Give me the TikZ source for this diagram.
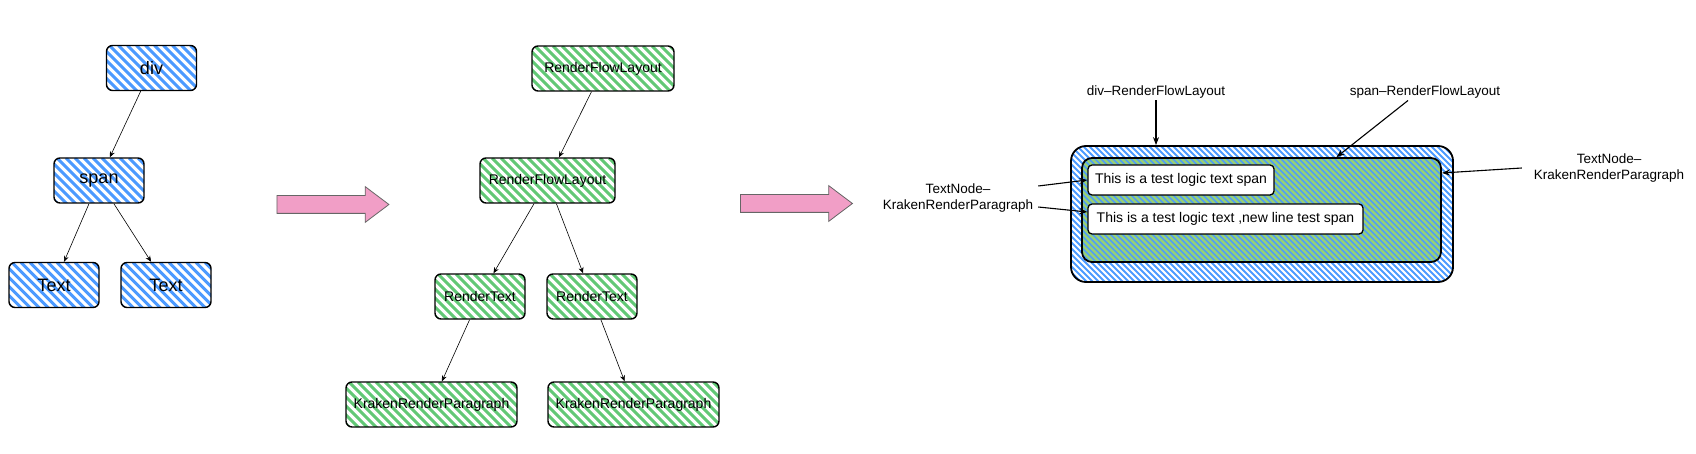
\documentclass[tikz,border=0pt]{standalone}
\usepackage{fontspec}
\setmainfont{Liberation Sans}
\usetikzlibrary{arrows.meta,positioning,shapes.arrows}

\definecolor{hatchblue}{RGB}{76,154,255}
\definecolor{hatchgreen}{RGB}{98,200,118}
\definecolor{leafgreen}{RGB}{151,208,119}
\definecolor{arrowpink}{RGB}{241,158,198}

\begin{document}
\begin{tikzpicture}[x=1pt,y=-1pt,
    stripes/.style n args={3}{path picture={
        \foreach \k in {0,...,95}
          \draw[#1,line width=#3]
            ([xshift={(\k*#2-150)*1pt}]path picture bounding box.north west) -- ++(170,170);}},
    box/.style={draw=black,line width=1.4pt,rounded corners=6pt,minimum height=45pt,inner sep=2pt},
    domnode/.style={box,minimum width=90pt,font=\fontsize{18}{20}\selectfont,stripes={hatchblue}{9}{3pt}},
    rendernode/.style={box,font=\fontsize{14}{16}\selectfont,stripes={hatchgreen}{9}{3pt}},
    textbox/.style={draw=black,line width=1.3pt,fill=white,rounded corners=4pt,minimum height=30pt,
                    inner sep=2pt,font=\fontsize{14}{16}\selectfont},
    note/.style={font=\fontsize{13.5}{16}\selectfont,align=center,inner sep=2pt},
    edge/.style={-{Stealth[length=6pt,width=5pt]},line width=0.6pt},
    pointer/.style={-{Stealth[length=8pt,width=6pt]},line width=1.1pt},
    bigarrow/.style={single arrow,draw=black!60,line width=0.8pt,fill=arrowpink,
                    minimum height=112pt,inner xsep=0pt,inner ysep=8.5pt,
                    single arrow head extend=9pt,single arrow tip angle=74}
  ]
    \useasboundingbox (0,0) rectangle (1696,454);

    % DOM tree
    \node[domnode] (div) at (151.5,68) {div};
    \node[domnode] (span) at (99,180.5) {span};
    \node[domnode] (text1) at (54,285) {Text};
    \node[domnode] (text2) at (166,285) {Text};
    \draw[edge] (div) -- (span);
    \draw[edge] (span) -- (text1); \draw[edge] (span) -- (text2);

    \node[bigarrow] (arrA) at (327,204.5) {};

    % render tree
    \node[rendernode,minimum width=142pt] (rfl1) at (603,68.5) {RenderFlowLayout};
    \node[rendernode,minimum width=135pt] (rfl2) at (547.5,180.5) {RenderFlowLayout};
    \node[rendernode,minimum width=90pt] (rt1) at (480,296.5) {RenderText};
    \node[rendernode,minimum width=90pt] (rt2) at (592,296.5) {RenderText};
    \node[rendernode,minimum width=171pt] (krp1) at (431.5,404.5) {KrakenRenderParagraph};
    \node[rendernode,minimum width=171pt] (krp2) at (633.5,404.5) {KrakenRenderParagraph};
    \draw[edge] (rfl1) -- (rfl2);
    \draw[edge] (rfl2) -- (rt1); \draw[edge] (rfl2) -- (rt2);
    \draw[edge] (rt1) -- (krp1); \draw[edge] (rt2) -- (krp2);

    \node[bigarrow] (arrB) at (790.5,203.5) {};

    % layout result
    \node[draw=black,line width=1.8pt,rounded corners=15pt,minimum width=382pt,minimum height=136pt,
          stripes={hatchblue}{6}{2pt}] (outer) at (1262,214) {};
    \node[draw=black,line width=1.8pt,rounded corners=10pt,minimum width=359pt,minimum height=104pt,
          fill=leafgreen,stripes={hatchblue}{6}{1.4pt}] (inner) at (1261.5,210) {};
    \node[textbox,minimum width=186pt] (tb1) at (1181,180) {This is a test logic text span};
    \node[textbox,minimum width=275pt] (tb2) at (1225.5,219) {This is a test logic text ,new line test span};

    \node[note] (divlbl) at (1156,92) {div–RenderFlowLayout};
    \node[note] (spanlbl) at (1425,92) {span–RenderFlowLayout};
    \node[note] (tnleft) at (958,198) {TextNode–\\KrakenRenderParagraph};
    \node[note] (tnright) at (1609,168) {TextNode–\\KrakenRenderParagraph};

    \draw[pointer] (divlbl.south) -- (divlbl.south |- outer.north);
    \draw[pointer] ([xshift=-17pt]spanlbl.south) -- ([xshift=75pt]inner.north);
    \draw[pointer] ([xshift=-10pt]tnright.west) -- ([yshift=37pt]inner.east);
    \draw[pointer] ([xshift=3pt,yshift=12pt]tnleft.east) -- (tb1.west);
    \draw[pointer] ([xshift=3pt,yshift=-9pt]tnleft.east) -- ([yshift=7pt]tb2.west);
  \end{tikzpicture}
\end{document}
